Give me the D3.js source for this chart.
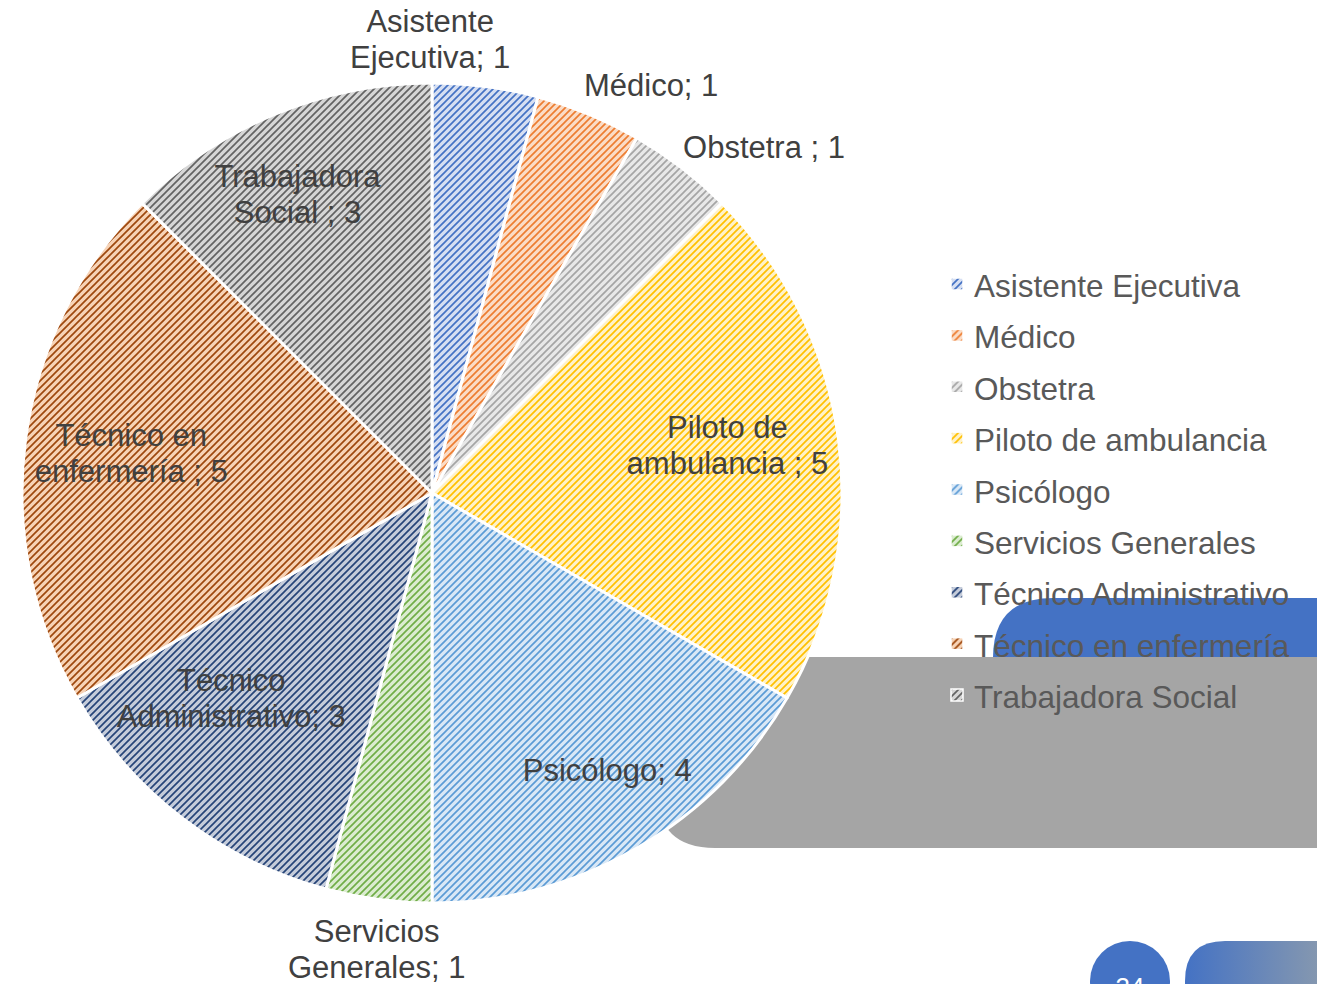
<!DOCTYPE html>
<html>
<head>
<meta charset="utf-8">
<script src="https://cdn.jsdelivr.net/npm/d3@7"></script>
<style>
  body { margin: 0; background: #fff; overflow: hidden; }
  text { font-family: 'Liberation Sans', Arial, sans-serif; }
</style>
</head>
<body>
<svg id="container"></svg>
<script>
const categories = [
  'Asistente Ejecutiva',
  'Médico',
  'Obstetra',
  'Piloto de ambulancia',
  'Psicólogo',
  'Servicios Generales',
  'Técnico Administrativo',
  'Técnico en enfermería',
  'Trabajadora Social',
]
const values = [1, 1, 1, 5, 4, 1, 3, 5, 3]
// data label text as shown in the chart (line broken)
const labelLines = [
  ['Asistente', 'Ejecutiva; 1'],
  ['Médico; 1'],
  ['Obstetra ; 1'],
  ['Piloto de', 'ambulancia ; 5'],
  ['Psicólogo; 4'],
  ['Servicios', 'Generales; 1'],
  ['Técnico', 'Administrativo; 3'],
  ['Técnico en', 'enfermería ; 5'],
  ['Trabajadora', 'Social ; 3'],
]
const lineColors = ['#4472C4', '#ED7D31', '#A5A5A5', '#FFC000', '#5B9BD5', '#70AD47', '#264478', '#9E480E', '#636363']
const fillColors = ['#d6dff2', '#fbdcc6', '#e8e8e8', '#fff2c8', '#d9e8f6', '#dbecd0', '#c5ccda', '#f7d3b6', '#d6d6d6']
const pageNumber = '34'

const W = 1317, H = 984
const svg = d3.select('#container').attr('width', W).attr('height', H)
const defs = svg.append('defs')

// hatch patterns (wide upward diagonal)
const hs = 7
categories.forEach((c, i) => {
  let p = defs.append('pattern')
    .attr('id', 'hatch' + i)
    .attr('patternUnits', 'userSpaceOnUse')
    .attr('width', hs).attr('height', hs)
  p.append('rect').attr('width', hs).attr('height', hs).attr('fill', fillColors[i])
  p.append('path')
    .attr('d', `M0,${hs} L${hs},0 M-1,1 L1,-1 M${hs - 1},${hs + 1} L${hs + 1},${hs - 1}`)
    .attr('stroke', lineColors[i])
    .attr('stroke-width', 1.7)
})

let grad = defs.append('linearGradient').attr('id', 'tabGrad')
grad.append('stop').attr('offset', '0%').attr('stop-color', '#4472C4')
grad.append('stop').attr('offset', '100%').attr('stop-color', '#8497B0')

// slide decorations behind the chart
svg.append('path')
  .attr('d', 'M993,658 Q993,598 1053,598 L1317,598 L1317,700 L993,700 Z')
  .attr('fill', '#4472C4')
svg.append('path')
  .attr('d', 'M560,657 L1317,657 L1317,848 L715,848 Q657,848 657,790 L657,700 L560,700 Z')
  .attr('fill', '#A5A5A5')
svg.append('path')
  .attr('d', 'M1185,984 L1185,981 Q1185,941 1225,941 L1317,941 L1317,984 Z')
  .attr('fill', 'url(#tabGrad)')
svg.append('circle').attr('cx', 1130).attr('cy', 981).attr('r', 40).attr('fill', '#4472C4')
svg.append('text').attr('x', 1130).attr('y', 996).attr('text-anchor', 'middle')
  .attr('font-size', 26).attr('fill', '#fff').text(pageNumber)

// pie
const cx = 432, cy = 493, R = 410
const pie = d3.pie().sort(null).value((d) => d)
const arcs = pie(values)
const arc = d3.arc().innerRadius(0).outerRadius(R)

const g = svg.append('g').attr('transform', `translate(${cx},${cy})`)
g.selectAll('.slice')
  .data(arcs)
  .enter()
  .append('path')
  .attr('class', 'slice')
  .attr('d', arc)
  .attr('fill', (d, i) => `url(#hatch${i})`)
  .attr('stroke', '#fff')
  .attr('stroke-width', 3)
  .attr('stroke-linejoin', 'round')

// data labels: small slices outside, others inside
const labelRadius = [1.107, 1.13, 1.17, 0.73, 0.8, 1.12, 0.7, 0.74, 0.8]
const labelTurn = [-0.135, 0.1, 0.11, -0.03, -0.04, -0.01, 0.12, 0, -0.03]
const lineH = 36
g.selectAll('.dlabel')
  .data(arcs)
  .enter()
  .append('text')
  .attr('class', 'dlabel')
  .attr('text-anchor', 'middle')
  .attr('font-size', 31)
  .attr('fill', '#404040')
  .each(function (d, i) {
    let a = (d.startAngle + d.endAngle) / 2 + labelTurn[i]
    let r = R * labelRadius[i]
    let x = Math.sin(a) * r, y = -Math.cos(a) * r
    let lines = labelLines[i]
    let y0 = y - ((lines.length - 1) * lineH) / 2 + 11
    lines.forEach((l, k) => {
      d3.select(this).append('tspan').attr('x', x).attr('y', y0 + k * lineH).text(l)
    })
  })

// legend
const legendY = d3.scalePoint().domain(categories).range([286, 697])
const legend = svg.append('g')
const items = legend.selectAll('.item').data(categories).enter().append('g')
  .attr('transform', (d) => `translate(951,${legendY(d)})`)
items.append('rect')
  .attr('x', 0).attr('y', -8).attr('width', 12).attr('height', 12)
  .attr('fill', (d, i) => `url(#hatch${i})`)
  .attr('stroke', '#fff').attr('stroke-width', 1.5)
items.append('text')
  .attr('x', 23).attr('y', 11)
  .attr('font-size', 31.5)
  .attr('fill', '#595959')
  .text((d) => d)
</script>
</body>
</html>
